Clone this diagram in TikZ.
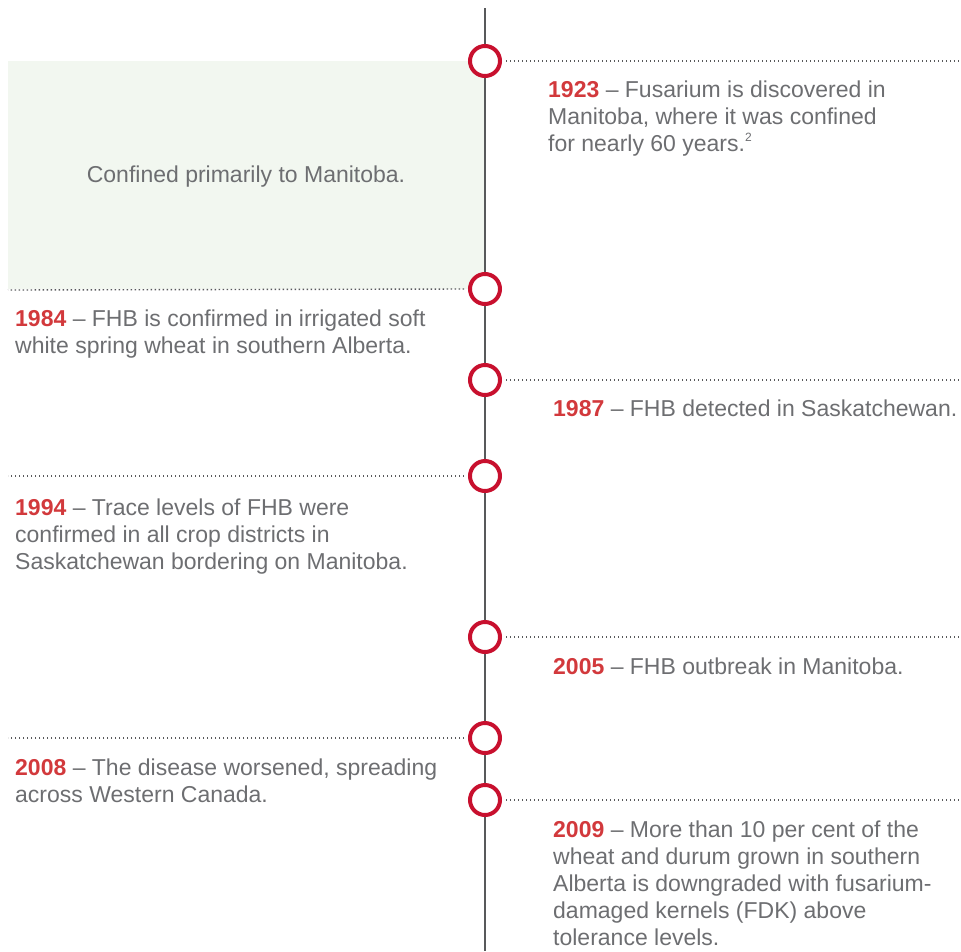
\documentclass[tikz,border=0pt]{standalone}
\usepackage{fontspec}
\setmainfont{Liberation Sans}
\definecolor{txt}{HTML}{6D6E71}
\definecolor{yr}{HTML}{D2393C}
\definecolor{ring}{HTML}{C8102E}
\definecolor{boxg}{HTML}{F2F7F0}
\definecolor{axis}{HTML}{58595B}
\newcommand{\yrtxt}[1]{\textcolor{yr}{\bfseries #1}}
\begin{document}
\begin{tikzpicture}[x=1pt,y=-1pt,
  ringnode/.style={circle, draw=ring, line width=4pt, fill=white, minimum size=30pt, inner sep=0pt},
  dots/.style={draw=axis, line width=1.4pt, dash pattern=on 1.4pt off 2.6pt},
  event/.style={anchor=base west, inner sep=0pt, align=left, text=txt, font=\fontsize{23}{27}\selectfont}]
\useasboundingbox (0,0) rectangle (961,951);
% green box
\fill[boxg] (8,61) rectangle (485,289);
\node[inner sep=0pt, text=txt, font=\fontsize{23}{27}\selectfont] (conf) at (246,177) {Confined primarily to Manitoba.};
% axis
\coordinate (top) at (485,8);
\coordinate (bot) at (485,951);
\draw[axis, line width=2pt] (top) -- (bot);
% rings
\node[ringnode] (c1) at (485,61) {};
\node[ringnode] (c2) at (485,289) {};
\node[ringnode] (c3) at (485,380) {};
\node[ringnode] (c4) at (485,476) {};
\node[ringnode] (c5) at (485,637) {};
\node[ringnode] (c6) at (485,738) {};
\node[ringnode] (c7) at (485,800) {};
% dotted leaders
\coordinate (r1) at (961,61);
\coordinate (l2) at (8,290);
\coordinate (r3) at (961,380);
\coordinate (l4) at (8,476);
\coordinate (r5) at (961,637);
\coordinate (l6) at (8,738);
\coordinate (r7) at (961,800);
\draw[dots] ([xshift=4pt]c1.east) -- (r1);
\draw[dots] ([xshift=-4pt]c2.west) -- (l2);
\draw[dots] ([xshift=4pt]c3.east) -- (r3);
\draw[dots] ([xshift=-4pt]c4.west) -- (l4);
\draw[dots] ([xshift=4pt]c5.east) -- (r5);
\draw[dots] ([xshift=-4pt]c6.west) -- (l6);
\draw[dots] ([xshift=4pt]c7.east) -- (r7);
% texts (anchor = baseline of the last line)
\node[event] (t1) at (548,151) {\yrtxt{1923} -- Fusarium is discovered in\\Manitoba, where it was confined\\for nearly 60 years.\textsuperscript{\fontsize{12}{12}\selectfont 2}};
\node[event] (t2) at (15,353) {\yrtxt{1984} -- FHB is confirmed in irrigated soft\\white spring wheat in southern Alberta.};
\node[event] (t3) at (553,416) {\yrtxt{1987} -- FHB detected in Saskatchewan.};
\node[event] (t4) at (15,569) {\yrtxt{1994} -- Trace levels of FHB were\\confirmed in all crop districts in\\Saskatchewan bordering on Manitoba.};
\node[event] (t5) at (553,674) {\yrtxt{2005} -- FHB outbreak in Manitoba.};
\node[event] (t6) at (15,802) {\yrtxt{2008} -- The disease worsened, spreading\\across Western Canada.};
\node[event] (t7) at (553,945) {\yrtxt{2009} -- More than 10 per cent of the\\wheat and durum grown in southern\\Alberta is downgraded with fusarium-\\damaged kernels (FDK) above\\tolerance levels.};
\end{tikzpicture}
\end{document}
